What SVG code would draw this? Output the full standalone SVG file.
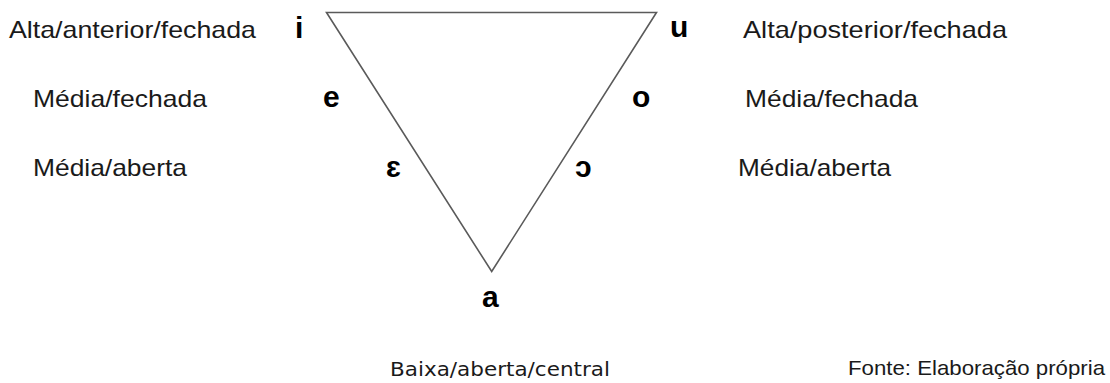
<svg xmlns="http://www.w3.org/2000/svg" width="1110" height="383" viewBox="0 0 1110 383">
  <style>
    .lbl { font-family: "Liberation Sans", Arial, sans-serif; font-size: 24px; fill: #1a1a1a; }
    .v { font-family: "Liberation Sans", Arial, sans-serif; font-size: 30px; font-weight: bold; fill: #000; }
    .foot { font-family: "DejaVu Sans", sans-serif; font-size: 20px; fill: #1a1a1a; }
    .src { font-family: "Liberation Sans", Arial, sans-serif; font-size: 21px; fill: #1a1a1a; }
    .tri { fill: none; stroke: #5a5a5a; stroke-width: 1.6; stroke-linejoin: miter; }
  </style>
  <rect width="1110" height="383" fill="#fff"/>
  <g id="connectors">
    <polygon class="tri" points="326.5,12.5 656.5,12.5 491.7,271.5"/>
  </g>
  <g id="node-i">
    <text class="v" x="295" y="38">i</text>
    <text class="lbl" x="9" y="38" textLength="247" lengthAdjust="spacingAndGlyphs">Alta/anterior/fechada</text>
  </g>
  <g id="node-u">
    <text class="v" x="670" y="37">u</text>
    <text class="lbl" x="743" y="38" textLength="264" lengthAdjust="spacingAndGlyphs">Alta/posterior/fechada</text>
  </g>
  <g id="node-e">
    <text class="v" x="323" y="107">e</text>
    <text class="lbl" x="33" y="107" textLength="174" lengthAdjust="spacingAndGlyphs">Média/fechada</text>
  </g>
  <g id="node-o">
    <text class="v" x="632" y="107">o</text>
    <text class="lbl" x="745" y="107" textLength="173" lengthAdjust="spacingAndGlyphs">Média/fechada</text>
  </g>
  <g id="node-epsilon">
    <text class="v" x="386" y="177">ɛ</text>
    <text class="lbl" x="33" y="176" textLength="154" lengthAdjust="spacingAndGlyphs">Média/aberta</text>
  </g>
  <g id="node-openo">
    <text class="v" x="575" y="177">ɔ</text>
    <text class="lbl" x="738" y="176" textLength="153" lengthAdjust="spacingAndGlyphs">Média/aberta</text>
  </g>
  <g id="node-a">
    <text class="v" x="482" y="307">a</text>
    <text class="foot" x="390" y="376" textLength="220" lengthAdjust="spacingAndGlyphs">Baixa/aberta/central</text>
  </g>
  <g id="source">
    <text class="src" x="848" y="375" textLength="257" lengthAdjust="spacingAndGlyphs">Fonte: Elaboração própria</text>
  </g>
</svg>
